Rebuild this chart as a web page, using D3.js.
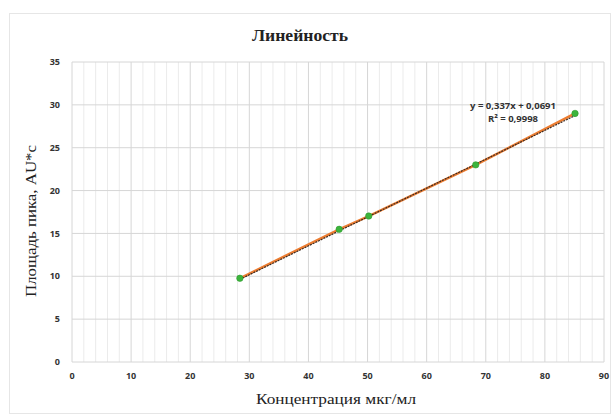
<!DOCTYPE html>
<html>
<head>
<meta charset="utf-8">
<script src="https://cdn.jsdelivr.net/npm/d3@7"></script>
<style>
  body { margin: 0; background: #fff; }
  svg { display: block; }
</style>
</head>
<body>
<div id="chart"></div>
<script>
// values
const concentrations = [28.4, 45.2, 50.2, 68.3, 85.1];
const peakAreas = [9.77, 15.48, 17.03, 23.0, 29.0];
const slope = 0.337;
const intercept = 0.0691;
const xTicks = [0, 10, 20, 30, 40, 50, 60, 70, 80, 90];
const yTicks = [0, 5, 10, 15, 20, 25, 30, 35];
const equationLines = ['y = 0,337x + 0,0691', 'R² = 0,9998'];

const width = 612, height = 416;
const margin = { left: 72, right: 8, top: 62, bottom: 54 };

const svg = d3.select('#chart').append('svg')
  .attr('width', width)
  .attr('height', height);

// chart frame
svg.append('rect')
  .attr('x', 9.5).attr('y', 13.5)
  .attr('width', width - 11).attr('height', height - 16)
  .attr('fill', '#fff')
  .attr('stroke', '#e6e6e6');

const x = d3.scaleLinear().domain([0, 90]).range([margin.left, width - margin.right]);
const y = d3.scaleLinear().domain([0, 35]).range([height - margin.bottom, margin.top]);

// minor vertical grid (every 2)
const minor = d3.range(0, 91, 2).filter(v => v % 10 !== 0);
svg.append('g').selectAll('line')
  .data(minor)
  .join('line')
  .attr('x1', d => x(d)).attr('x2', d => x(d))
  .attr('y1', y(35)).attr('y2', y(0))
  .attr('stroke', '#ebebeb')
  .attr('stroke-width', 1);

// major grid
svg.append('g').selectAll('line')
  .data(xTicks)
  .join('line')
  .attr('x1', d => x(d)).attr('x2', d => x(d))
  .attr('y1', y(35)).attr('y2', y(0))
  .attr('stroke', '#d6d6d6');

svg.append('g').selectAll('line')
  .data(yTicks)
  .join('line')
  .attr('x1', x(0)).attr('x2', x(90))
  .attr('y1', d => y(d)).attr('y2', d => y(d))
  .attr('stroke', '#d6d6d6');

// tick labels
const tickFont = '"Open Sans", "Liberation Sans", sans-serif';
svg.append('g').selectAll('text')
  .data(yTicks)
  .join('text')
  .attr('x', x(0) - 12)
  .attr('y', d => y(d))
  .attr('dy', '0.35em')
  .attr('text-anchor', 'end')
  .attr('font-family', tickFont)
  .attr('font-size', 9)
  .attr('font-weight', 'bold')
  .attr('fill', '#333')
  .text(d => d);

svg.append('g').selectAll('text')
  .data(xTicks)
  .join('text')
  .attr('x', d => x(d))
  .attr('y', y(0) + 17)
  .attr('text-anchor', 'middle')
  .attr('font-family', tickFont)
  .attr('font-size', 9)
  .attr('font-weight', 'bold')
  .attr('fill', '#333')
  .text(d => d);

// data line (orange) and trendline (dark dotted)
const pts = concentrations.map((c, i) => [c, peakAreas[i]]);
const line = d3.line().x(d => x(d[0])).y(d => y(d[1]));

svg.append('path')
  .datum(pts)
  .attr('d', line)
  .attr('fill', 'none')
  .attr('stroke', '#ed7d31')
  .attr('stroke-width', 2.5);

const x0 = d3.min(concentrations), x1 = d3.max(concentrations);
svg.append('path')
  .datum([[x0, slope * x0 + intercept], [x1, slope * x1 + intercept]])
  .attr('d', line)
  .attr('fill', 'none')
  .attr('stroke', '#3a2a22')
  .attr('stroke-width', 1.2)
  .attr('stroke-dasharray', '2,1');

svg.append('g').selectAll('circle')
  .data(pts)
  .join('circle')
  .attr('cx', d => x(d[0]))
  .attr('cy', d => y(d[1]))
  .attr('r', 3.2)
  .attr('fill', '#3cb43c')
  .attr('stroke', '#2f9a2f')
  .attr('stroke-width', 0.6);

// equation label
svg.append('g').selectAll('text')
  .data(equationLines)
  .join('text')
  .attr('x', 513)
  .attr('y', (d, i) => 109 + i * 13)
  .attr('text-anchor', 'middle')
  .attr('font-family', tickFont)
  .attr('font-size', 9.5)
  .attr('font-weight', 'bold')
  .attr('fill', '#333')
  .text(d => d);

// titles
const serif = '"Liberation Serif", "DejaVu Serif", serif';
svg.append('text')
  .attr('x', 300).attr('y', 41)
  .attr('text-anchor', 'middle')
  .attr('font-family', serif)
  .attr('font-size', 16)
  .attr('font-weight', 'bold')
  .attr('fill', '#222')
  .attr('textLength', 96)
  .attr('lengthAdjust', 'spacingAndGlyphs')
  .text('Линейность');

svg.append('text')
  .attr('x', 336).attr('y', 404)
  .attr('text-anchor', 'middle')
  .attr('font-family', serif)
  .attr('font-size', 15)
  .attr('fill', '#222')
  .attr('textLength', 160)
  .attr('lengthAdjust', 'spacingAndGlyphs')
  .text('Концентрация мкг/мл');

svg.append('text')
  .attr('transform', `translate(36, 221) rotate(-90)`)
  .attr('text-anchor', 'middle')
  .attr('font-family', serif)
  .attr('font-size', 14)
  .attr('fill', '#222')
  .attr('textLength', 152)
  .attr('lengthAdjust', 'spacingAndGlyphs')
  .text('Площадь пика, AU*c');
</script>
</body>
</html>
